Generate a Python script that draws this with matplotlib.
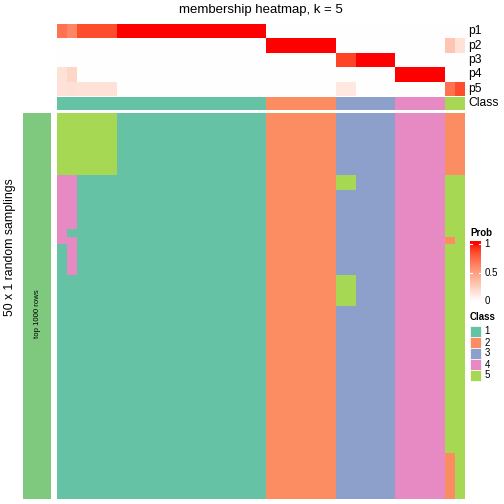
import numpy as np
import matplotlib
matplotlib.use("Agg")
import matplotlib.pyplot as plt
from matplotlib.colors import ListedColormap
from matplotlib.patches import Rectangle

plt.rcParams['font.family'] = ['Liberation Sans', 'DejaVu Sans']

# ---------------- data ----------------
title = "membership heatmap, k = 5"
class_names = ["1", "2", "3", "4", "5"]
class_colors = ["#66C2A5", "#FC8D62", "#8DA0CB", "#E78AC3", "#A6D854"]
prob_rows = ["p1", "p2", "p3", "p4", "p5"]

# consensus class per sample (41 samples)
consensus_class = [1, 1, 1, 1, 1, 1, 1, 1, 1, 1, 1, 1, 1, 1, 1, 1, 1, 1, 1, 1, 1,
                   2, 2, 2, 2, 2, 2, 2,
                   3, 3, 3, 3, 3, 3,
                   4, 4, 4, 4, 4,
                   5, 5]

p1 = [0.70, 0.62, 0.85, 0.85, 0.85, 0.85, 1, 1, 1, 1, 1, 1, 1, 1, 1, 1, 1, 1, 1, 1, 1,
      0, 0, 0, 0, 0, 0, 0, 0, 0, 0, 0, 0, 0, 0, 0, 0, 0, 0, 0, 0]
p2 = [0, 0, 0, 0, 0, 0, 0, 0, 0, 0, 0, 0, 0, 0, 0, 0, 0, 0, 0, 0, 0,
      1, 1, 1, 1, 1, 1, 1, 0, 0, 0, 0, 0, 0, 0, 0, 0, 0, 0, 0.30, 0.15]
p3 = [0, 0, 0, 0, 0, 0, 0, 0, 0, 0, 0, 0, 0, 0, 0, 0, 0, 0, 0, 0, 0,
      0, 0, 0, 0, 0, 0, 0, 0.88, 0.88, 1, 1, 1, 1, 0, 0, 0, 0, 0, 0, 0]
p4 = [0.15, 0.22, 0, 0, 0, 0, 0, 0, 0, 0, 0, 0, 0, 0, 0, 0, 0, 0, 0, 0, 0,
      0, 0, 0, 0, 0, 0, 0, 0, 0, 0, 0, 0, 0, 1, 1, 1, 1, 1, 0, 0]
p5 = [0.15, 0.16, 0.15, 0.15, 0.15, 0.15, 0, 0, 0, 0, 0, 0, 0, 0, 0, 0, 0, 0, 0, 0, 0,
      0, 0, 0, 0, 0, 0, 0, 0.12, 0.12, 0, 0, 0, 0, 0, 0, 0, 0, 0, 0.70, 0.85]

# class membership in each of the 50 random samplings (rows) for each sample (cols)
membership_rows = [
    "555555111111111111111 2222222 333333 44444 22",
    "555555111111111111111 2222222 333333 44444 22",
    "555555111111111111111 2222222 333333 44444 22",
    "555555111111111111111 2222222 333333 44444 22",
    "555555111111111111111 2222222 333333 44444 22",
    "555555111111111111111 2222222 333333 44444 22",
    "555555111111111111111 2222222 333333 44444 22",
    "555555111111111111111 2222222 333333 44444 22",
    "441111111111111111111 2222222 553333 44444 55",
    "441111111111111111111 2222222 553333 44444 55",
    "441111111111111111111 2222222 333333 44444 55",
    "441111111111111111111 2222222 333333 44444 55",
    "441111111111111111111 2222222 333333 44444 55",
    "441111111111111111111 2222222 333333 44444 55",
    "441111111111111111111 2222222 333333 44444 55",
    "411111111111111111111 2222222 333333 44444 55",
    "441111111111111111111 2222222 333333 44444 25",
    "141111111111111111111 2222222 333333 44444 55",
    "141111111111111111111 2222222 333333 44444 55",
    "141111111111111111111 2222222 333333 44444 55",
    "141111111111111111111 2222222 333333 44444 55",
    "111111111111111111111 2222222 553333 44444 55",
    "111111111111111111111 2222222 553333 44444 55",
    "111111111111111111111 2222222 553333 44444 55",
    "111111111111111111111 2222222 553333 44444 55",
    "111111111111111111111 2222222 333333 44444 55",
    "111111111111111111111 2222222 333333 44444 55",
    "111111111111111111111 2222222 333333 44444 55",
    "111111111111111111111 2222222 333333 44444 55",
    "111111111111111111111 2222222 333333 44444 55",
    "111111111111111111111 2222222 333333 44444 55",
    "111111111111111111111 2222222 333333 44444 55",
    "111111111111111111111 2222222 333333 44444 55",
    "111111111111111111111 2222222 333333 44444 55",
    "111111111111111111111 2222222 333333 44444 55",
    "111111111111111111111 2222222 333333 44444 55",
    "111111111111111111111 2222222 333333 44444 55",
    "111111111111111111111 2222222 333333 44444 55",
    "111111111111111111111 2222222 333333 44444 55",
    "111111111111111111111 2222222 333333 44444 55",
    "111111111111111111111 2222222 333333 44444 55",
    "111111111111111111111 2222222 333333 44444 55",
    "111111111111111111111 2222222 333333 44444 55",
    "111111111111111111111 2222222 333333 44444 55",
    "111111111111111111111 2222222 333333 44444 25",
    "111111111111111111111 2222222 333333 44444 25",
    "111111111111111111111 2222222 333333 44444 25",
    "111111111111111111111 2222222 333333 44444 25",
    "111111111111111111111 2222222 333333 44444 25",
    "111111111111111111111 2222222 333333 44444 25",
]
prob_ticks = [0, 0.5, 1]
prob_tick_labels = ["0", "0.5", "1"]

# ---------------- helpers ----------------
def _lab_ramp(c0, c1, n=256):
    def to_lin(c):
        c = np.asarray(c, float)
        return np.where(c <= 0.04045, c / 12.92, ((c + 0.055) / 1.055) ** 2.4)
    def to_srgb(c):
        c = np.clip(c, 0, 1)
        return np.where(c <= 0.0031308, 12.92 * c, 1.055 * c ** (1 / 2.4) - 0.055)
    M = np.array([[0.4124, 0.3576, 0.1805], [0.2126, 0.7152, 0.0722], [0.0193, 0.1192, 0.9505]])
    Mi = np.linalg.inv(M)
    wn = np.array([0.95047, 1.0, 1.08883])
    d = 6 / 29
    def f(t):
        return np.where(t > d ** 3, np.cbrt(t), t / (3 * d * d) + 4 / 29)
    def finv(t):
        return np.where(t > d, t ** 3, 3 * d * d * (t - 4 / 29))
    def lab(c):
        xyz = M @ to_lin(c) / wn
        fx, fy, fz = f(xyz)
        return np.array([116 * fy - 16, 500 * (fx - fy), 200 * (fy - fz)])
    l0, l1 = lab(c0), lab(c1)
    out = []
    for t in np.linspace(0, 1, n):
        L, a, b = l0 + (l1 - l0) * t
        fy = (L + 16) / 116
        fx = fy + a / 500
        fz = fy - b / 200
        xyz = np.array([finv(fx), finv(fy), finv(fz)]) * wn
        out.append(to_srgb(Mi @ xyz))
    return ListedColormap(np.clip(np.array(out), 0, 1))

prob_cmap = _lab_ramp([1, 1, 1], [1, 0, 0])
class_cmap = ListedColormap(class_colors)

W = H = 504
fig = plt.figure(figsize=(5.04, 5.04), dpi=100)

def ax_px(x0, y0, x1, y1):
    ax = fig.add_axes([x0 / W, 1 - y1 / H, (x1 - x0) / W, (y1 - y0) / H])
    ax.set_axis_off()
    return ax

X0, X1 = 57, 465

# probability annotation
prob_mat = np.array([p1, p2, p3, p4, p5], float)
ax_p = ax_px(X0, 24, X1, 96)
ax_p.imshow(prob_mat, cmap=prob_cmap, vmin=0, vmax=1, aspect='auto', interpolation='nearest')

# class annotation
ax_c = ax_px(X0, 96.5, X1, 110.5)
ax_c.imshow(np.array([consensus_class]), cmap=class_cmap, vmin=0.5, vmax=5.5,
            aspect='auto', interpolation='nearest')

# main membership heatmap
mat = np.array([[int(ch) for ch in r.replace(" ", "")] for r in membership_rows])
ax_m = ax_px(X0, 113, X1, 498.5)
ax_m.imshow(mat, cmap=class_cmap, vmin=0.5, vmax=5.5, aspect='auto', interpolation='nearest')

# left bar
ax_l = ax_px(23, 113, 51, 498.5)
ax_l.add_patch(Rectangle((0, 0), 1, 1, color="#7FC97F", transform=ax_l.transAxes))
ax_l.text(0.52, 0.48, "top 1000 rows", rotation=90, ha='center', va='center',
          fontsize=5.6, transform=ax_l.transAxes)

# prob colorbar
cb_top, cb_bot = 241, 303
ax_cb = ax_px(470, cb_top, 481, cb_bot)
v_top = 1 + 3 / 57
v_bot = -2 / 57
grad = np.linspace(v_bot, v_top, 256).reshape(-1, 1)
ax_cb.imshow(grad, cmap=prob_cmap, vmin=0, vmax=1, aspect='auto', origin='lower',
             extent=[0, 1, v_bot, v_top], interpolation='bilinear')
ax_cb.set_xlim(0, 1)
ax_cb.set_ylim(v_bot, v_top)
for t in prob_ticks:
    ax_cb.plot([0, 0.22], [t, t], color='white', lw=0.8)
    ax_cb.plot([0.78, 1], [t, t], color='white', lw=0.8)

# overlay for text & legend
ov = fig.add_axes([0, 0, 1, 1])
ov.set_xlim(0, W)
ov.set_ylim(H, 0)
ov.set_axis_off()
ov.patch.set_alpha(0)

ov.text((X0 + X1) / 2, 10.5, title, ha='center', va='center', fontsize=9.5)
ov.text(10.5, 247, "50 x 1 random samplings", rotation=90, ha='center', va='center', fontsize=8.8)

row_y0, row_h = 24, 14.4
for i, name in enumerate(prob_rows):
    ov.text(468, row_y0 + row_h * (i + 0.5), name, ha='left', va='center', fontsize=8.7)
ov.text(468, 103.5, "Class", ha='left', va='center', fontsize=8.7)

ov.text(470, 233, "Prob", ha='left', va='center', fontsize=7, fontweight='bold')
for t, lab in zip(prob_ticks, prob_tick_labels):
    y = 301 - 57 * t
    ov.text(484.5, y, lab, ha='left', va='center', fontsize=7)

ov.text(470, 317, "Class", ha='left', va='center', fontsize=7, fontweight='bold')
sq = 11
for i, (nm, col) in enumerate(zip(class_names, class_colors)):
    y = 326 + sq * i
    ov.add_patch(Rectangle((470, y), 11, sq, facecolor=col, edgecolor='white', lw=0.5))
    ov.text(484.5, y + sq / 2, nm, ha='left', va='center', fontsize=7)

fig.savefig("out.png", dpi=100)
